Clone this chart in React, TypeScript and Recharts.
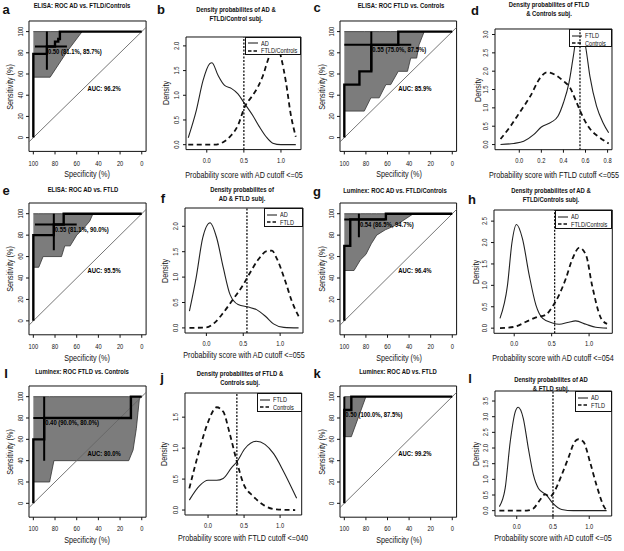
import React from 'react';
import { ComposedChart, Line, Area, Scatter, XAxis, YAxis, ReferenceArea } from 'recharts';

const FONT = '"Liberation Sans", Arial, sans-serif';
const INK = '#111';
// the figure uses a narrow sans; squeeze Liberation Sans horizontally
const NARROW = 0.8;

type XY = [number, number];
type Band3 = [number, number, number];
type Box = { l: number; r: number; t: number; b: number };

// ROC axes: specificity runs 100 -> 0
const specTicks = [100, 80, 60, 40, 20, 0];
const sensTicks = [0, 20, 40, 60, 80, 100];
const chanceLine: XY[] = [[104, -4], [-4, 104]];

// a  ELISA: AD vs FTLD/Controls
const rocCurveA: XY[] = [[100, 0], [100, 79], [87.5, 79], [87.5, 86], [80, 86], [80, 90.5], [77, 90.5], [77, 93], [75.5, 93], [75.5, 100], [0, 100]];
const rocBandA: Band3[] = [[100, 57, 100], [84.5, 57, 100], [69, 81, 100], [55, 100, 100]];
const rocCrossVA: XY[] = [[87.5, 64], [87.5, 100]];
const rocCrossHA: XY[] = [[98.5, 86], [69, 86]];

// c  ELISA: FTLD vs Controls
const rocCurveC: XY[] = [[100, 0], [100, 50], [86, 50], [86, 62.5], [75, 62.5], [75, 87.5], [50, 87.5], [50, 100], [0, 100]];
const rocBandC: Band3[] = [[100, 25, 100], [81.5, 25, 100], [75.4, 37.5, 100], [67.7, 37.5, 100], [61.5, 50, 100], [57, 50, 100], [50, 62.5, 100], [41.5, 62.5, 100], [38.5, 75, 100], [33, 75, 100], [30.8, 87.5, 100], [26, 100, 100]];
const rocCrossVC: XY[] = [[75, 62.5], [75, 100]];
const rocCrossHC: XY[] = [[100, 87.5], [38, 87.5]];

// e  ELISA: AD vs FTLD
const rocCurveE: XY[] = [[100, 0], [100, 80], [81.1, 80], [81.1, 90], [72, 90], [72, 100], [0, 100]];
const rocBandE: Band3[] = [[100, 50, 100], [95, 50, 100], [91, 60, 100], [74, 60, 100], [71, 70, 100], [66, 70, 100], [60, 80, 100], [54, 86, 100], [48, 93, 100], [45, 100, 100]];
const rocCrossVE: XY[] = [[81.1, 66], [81.1, 100]];
const rocCrossHE: XY[] = [[98.5, 90], [60, 90]];

// g  Luminex: AD vs FTLD/Controls
const rocCurveG: XY[] = [[100, 0], [100, 70], [94.5, 70], [94.5, 94.7], [61.5, 94.7], [61.5, 100], [0, 100]];
const rocBandG: Band3[] = [[100, 47, 100], [91, 47, 100], [85, 57, 100], [80, 62, 100], [75, 72, 100], [70, 80, 100], [62, 85, 100], [55, 88, 100], [48, 92, 100], [42, 96, 100], [36, 100, 100]];
const rocCrossVG: XY[] = [[86.5, 78], [86.5, 100]];
const rocCrossHG: XY[] = [[100, 94.7], [62, 94.7]];

// i  Luminex: FTLD vs Controls
const rocCurveI: XY[] = [[100, 0], [100, 60], [90, 60], [90, 80], [10, 80], [10, 100], [0, 100]];
const rocBandI: Band3[] = [[100, 20, 100], [85, 20, 100], [81, 40, 100], [12, 40, 100], [8, 50, 100], [5, 70, 100], [3.5, 85, 100], [2, 100, 100]];
const rocCrossVI: XY[] = [[90, 40], [90, 100]];
const rocCrossHI: XY[] = [[100, 80], [10, 80]];

// k  Luminex: AD vs FTLD
const rocCurveK: XY[] = [[100, 0], [100, 87.5], [93.5, 87.5], [93.5, 100], [0, 100]];
const rocBandK: Band3[] = [[100, 62.5, 100], [93.5, 62.5, 100], [80, 100, 100]];
const rocCrossVK: XY[] = [[100, 62.5], [100, 100]];
const rocCrossHK: XY[] = [[100, 87.5], [93.5, 87.5]];

// density panels (probability score, density)
const probTicks = [0, 0.5, 1];
const probTicksD = [0, 0.2, 0.4, 0.6, 0.8];
const densTicksB = [0, 0.5, 1, 1.5, 2];
const densTicksD = [0, 0.5, 1, 1.5, 2, 2.5, 3];
const densTicksF = [0, 0.5, 1, 1.5, 2];
const densTicksH = [0, 0.5, 1, 1.5, 2, 2.5];
const densTicksJ = [0, 0.5, 1, 1.5];
const densTicksL = [0, 0.5, 1, 1.5, 2, 2.5, 3, 3.5];

const densAdB: XY[] = [[-0.25, 0.14], [-0.14, 0.7], [-0.05, 1.3], [0.04, 1.64], [0.07, 1.66], [0.15, 1.41], [0.24, 1.2], [0.33, 1.14], [0.42, 1.03], [0.51, 0.83], [0.62, 0.59], [0.71, 0.36], [0.8, 0.16], [0.89, 0.03], [1.0, 0], [1.2, 0]];
const densOtherB: XY[] = [[-0.25, 0], [0.1, 0], [0.22, 0.05], [0.33, 0.19], [0.42, 0.39], [0.51, 0.76], [0.62, 1.0], [0.69, 1.17], [0.75, 1.37], [0.84, 1.78], [0.91, 2.01], [0.94, 2.08], [1.0, 1.78], [1.07, 1.24], [1.13, 0.63], [1.2, 0.16]];

const densFtldD: XY[] = [[-0.17, 0], [-0.05, 0.03], [0.04, 0.09], [0.13, 0.27], [0.2, 0.48], [0.29, 0.61], [0.35, 0.77], [0.4, 1.14], [0.45, 1.68], [0.49, 2.41], [0.52, 2.95], [0.56, 3.05], [0.6, 2.68], [0.64, 1.86], [0.7, 1.05], [0.76, 0.59], [0.81, 0.32]];
const densCtrlD: XY[] = [[-0.17, 0.15], [-0.08, 0.5], [0, 0.86], [0.1, 1.32], [0.19, 1.82], [0.25, 1.97], [0.32, 1.91], [0.4, 1.73], [0.46, 1.55], [0.52, 1.14], [0.58, 0.73], [0.64, 0.43], [0.72, 0.21], [0.81, 0.03]];

const densAdF: XY[] = [[-0.23, 0.33], [-0.14, 0.98], [-0.05, 1.77], [0.05, 2.07], [0.14, 1.77], [0.23, 1.18], [0.32, 0.66], [0.43, 0.46], [0.57, 0.41], [0.68, 0.36], [0.8, 0.23], [0.91, 0.08], [1.05, 0.01], [1.25, 0]];
const densFtldF: XY[] = [[-0.23, 0], [0, 0.01], [0.11, 0.1], [0.23, 0.3], [0.34, 0.52], [0.5, 0.85], [0.59, 1.08], [0.7, 1.34], [0.82, 1.51], [0.89, 1.52], [0.95, 1.38], [1.07, 0.92], [1.16, 0.52], [1.25, 0.23]];

const densAdH: XY[] = [[-0.19, 0.23], [-0.09, 1.0], [-0.03, 2.0], [0.03, 2.42], [0.11, 2.09], [0.2, 1.24], [0.29, 0.54], [0.38, 0.23], [0.51, 0.12], [0.6, 0.09], [0.73, 0.14], [0.82, 0.17], [0.96, 0.09], [1.09, 0.02], [1.24, 0]];
const densOtherH: XY[] = [[-0.19, 0], [0, 0.03], [0.16, 0.15], [0.29, 0.25], [0.42, 0.31], [0.51, 0.5], [0.6, 0.78], [0.69, 1.16], [0.78, 1.63], [0.87, 1.88], [0.96, 1.7], [1.04, 1.0], [1.16, 0.23], [1.24, 0.1]];

const densFtldJ: XY[] = [[-0.26, 0.16], [-0.12, 0.39], [0, 0.48], [0.12, 0.48], [0.21, 0.51], [0.33, 0.69], [0.4, 0.78], [0.51, 0.99], [0.67, 1.11], [0.79, 1.06], [0.91, 0.91], [1.05, 0.62], [1.23, 0.19]];
const densCtrlJ: XY[] = [[-0.26, 0.35], [-0.12, 0.97], [0, 1.42], [0.12, 1.66], [0.21, 1.59], [0.3, 1.24], [0.4, 0.78], [0.49, 0.43], [0.63, 0.22], [0.77, 0.08], [0.95, 0.01], [1.21, 0]];

const densAdL: XY[] = [[-0.24, 0.13], [-0.16, 0.71], [-0.09, 2.2], [-0.02, 3.16], [0.02, 3.3], [0.09, 2.95], [0.16, 1.99], [0.23, 1.14], [0.3, 0.71], [0.41, 0.5], [0.5, 0.23], [0.62, 0.04], [0.78, 0], [1.24, 0]];
const densFtldL: XY[] = [[-0.24, 0], [0.14, 0], [0.23, 0.07], [0.32, 0.34], [0.39, 0.52], [0.46, 0.45], [0.53, 0.66], [0.62, 1.14], [0.71, 1.67], [0.8, 2.2], [0.85, 2.28], [0.92, 2.2], [1.01, 1.56], [1.1, 0.82], [1.22, 0.07], [1.26, 0]];

const MARGIN = { top: 2, right: 2, bottom: 0, left: 0 };

function frame(box: Box) {
  return { left: box.l - 24, top: box.t - 2, width: box.r - box.l + 26, height: box.b - box.t + 26 };
}

const rotTick = (fmt: (v: number) => string) => (p: any) => (
  <text transform={`translate(${p.x} ${p.y}) rotate(-90) scale(${NARROW} 1)`} textAnchor="middle" fontSize={7.2} fontFamily={FONT} fill={INK}>
    {fmt(p.payload.value)}
  </text>
);

const xTick = (fmt: (v: number) => string) => (p: any) => (
  <text transform={`translate(${p.x} ${p.y}) scale(${NARROW} 1)`} dy="0.71em" textAnchor="middle" fontSize={7.2} fontFamily={FONT} fill={INK}>
    {fmt(p.payload.value)}
  </text>
);

const textShape = (text: string, dx: number, dy: number) => (p: any) => (
  <text transform={`translate(${p.cx + dx} ${p.cy + dy}) scale(0.76 1)`} fontSize={7.8} fontWeight="bold" fontFamily={FONT} fill="#000">
    {text}
  </text>
);

const fix1 = (v: number) => v.toFixed(1);

function Txt({ x, y, size = 9, bold = false, rot = false, narrow = true, children }: any) {
  const sq = narrow ? ` scaleX(${NARROW})` : '';
  return (
    <div
      style={{
        position: 'absolute', left: x, top: y, transform: `translate(-50%, -50%)${rot ? ' rotate(-90deg)' : ''}${sq}`,
        fontSize: size, fontWeight: bold ? 700 : 400, fontFamily: FONT, whiteSpace: 'nowrap', lineHeight: 1, color: INK,
      }}
    >
      {children}
    </div>
  );
}

interface RocProps {
  box: Box; curve: XY[]; band: Band3[]; crossV: XY[]; crossH: XY[]; thr: XY; thrLabel: string; auc: string;
}

function RocPanel({ box, curve, band, crossV, crossH, thr, thrLabel, auc }: RocProps) {
  const fr = frame(box);
  const pts = (a: XY[]) => a.map(([spec, sens]) => ({ spec, sens }));
  const bandData = band.map(([spec, lo, hi]) => ({ spec, lo, hi }));
  return (
    <div style={{ position: 'absolute', left: fr.left, top: fr.top }}>
      <ComposedChart width={fr.width} height={fr.height} margin={MARGIN}>
        <XAxis type="number" dataKey="spec" domain={[-4, 104]} reversed allowDataOverflow ticks={specTicks} interval={0}
          height={24} axisLine={false} tickLine={{ stroke: INK }} tickSize={3} tickMargin={6} tick={xTick(String)} />
        <YAxis type="number" dataKey="sens" domain={[-13, 110]} allowDataOverflow ticks={sensTicks} interval={0}
          width={24} axisLine={false} tickLine={{ stroke: INK }} tickSize={3} tickMargin={3} tick={rotTick(String)} />
        <Area data={bandData} dataKey={(d: any) => [d.lo, d.hi]} type="linear" fill="#7c7c7c" fillOpacity={1}
          stroke="#333" strokeWidth={0.8} isAnimationActive={false} dot={false} activeDot={false} />
        <Line data={pts(chanceLine)} dataKey="sens" type="linear" stroke="#666" strokeWidth={0.9} dot={false} isAnimationActive={false} />
        <Line data={pts(curve)} dataKey="sens" type="linear" stroke="#000" strokeWidth={2.4} dot={false} isAnimationActive={false} />
        <Line data={pts(crossV)} dataKey="sens" type="linear" stroke="#000" strokeWidth={2} dot={false} isAnimationActive={false} />
        <Line data={pts(crossH)} dataKey="sens" type="linear" stroke="#000" strokeWidth={2} dot={false} isAnimationActive={false} />
        <Scatter data={pts([thr])} dataKey="sens" shape={textShape(thrLabel, 1, 7.5)} isAnimationActive={false} />
        <Scatter data={pts([[50, 50]])} dataKey="sens" shape={textShape(auc, 0, 6)} isAnimationActive={false} />
        <ReferenceArea x1={-4} x2={104} y1={-13} y2={110} fill="none" stroke={INK} strokeWidth={1} />
      </ComposedChart>
    </div>
  );
}

interface DensProps {
  box: Box; xDomain: [number, number]; yDomain: [number, number]; xTicks: number[]; yTicks: number[];
  solid: XY[]; dashed: XY[]; cutoff: number; legend: Box; legendItems: { label: string; dashed: boolean }[];
}

function DensityPanel({ box, xDomain, yDomain, xTicks, yTicks, solid, dashed, cutoff, legend, legendItems }: DensProps) {
  const fr = frame(box);
  const pts = (a: XY[]) => a.map(([x, y]) => ({ x, y }));
  const cutLine = pts([[cutoff, yDomain[0]], [cutoff, yDomain[1]]]);
  return (
    <>
      <div style={{ position: 'absolute', left: fr.left, top: fr.top }}>
        <ComposedChart width={fr.width} height={fr.height} margin={MARGIN}>
          <XAxis type="number" dataKey="x" domain={xDomain} allowDataOverflow ticks={xTicks} interval={0}
            height={24} axisLine={false} tickLine={{ stroke: INK }} tickSize={3} tickMargin={5} tick={xTick(fix1)} />
          <YAxis type="number" dataKey="y" domain={yDomain} allowDataOverflow ticks={yTicks} interval={0}
            width={24} axisLine={false} tickLine={{ stroke: INK }} tickSize={3} tickMargin={4} tick={rotTick(fix1)} />
          <Line data={pts(solid)} dataKey="y" type="monotone" stroke="#222" strokeWidth={1.1} dot={false} isAnimationActive={false} />
          <Line data={pts(dashed)} dataKey="y" type="monotone" stroke="#111" strokeWidth={1.8} strokeDasharray="5 3.5" dot={false} isAnimationActive={false} />
          <ReferenceArea x1={xDomain[0]} x2={xDomain[1]} y1={yDomain[0]} y2={yDomain[1]} fill="none" stroke={INK} strokeWidth={1} />
        </ComposedChart>
      </div>
      <LegendBox box={legend} items={legendItems} />
      {/* cutoff line sits above the opaque legend, as in the original */}
      <div style={{ position: 'absolute', left: fr.left, top: fr.top }}>
        <ComposedChart width={fr.width} height={fr.height} margin={MARGIN}>
          <XAxis type="number" dataKey="x" domain={xDomain} allowDataOverflow height={24} axisLine={false} tickLine={false} tick={false} />
          <YAxis type="number" dataKey="y" domain={yDomain} allowDataOverflow width={24} axisLine={false} tickLine={false} tick={false} />
          <Line data={cutLine} dataKey="y" type="linear" stroke="#111" strokeWidth={1.3} strokeDasharray="2 1.5" dot={false} isAnimationActive={false} />
        </ComposedChart>
      </div>
    </>
  );
}

function LegendBox({ box, items }: { box: Box; items: { label: string; dashed: boolean }[] }) {
  return (
    <div style={{ position: 'absolute', left: box.l, top: box.t, width: box.r - box.l, height: box.b - box.t, border: `1px solid ${INK}`, boxSizing: 'border-box', background: '#fff' }}>
      {items.map((it, i) => (
        <div key={i} style={{ position: 'absolute', left: 2, top: 1.5 + i * 7.6, height: 8, display: 'flex', alignItems: 'center', fontSize: 7, fontFamily: FONT, whiteSpace: 'nowrap', color: INK }}>
          <svg width={10} height={8} style={{ display: 'block' }}>
            <line x1={0} y1={4} x2={10} y2={4} stroke={INK} strokeWidth={it.dashed ? 1.6 : 1} strokeDasharray={it.dashed ? '3.5 2' : undefined} />
          </svg>
          <span style={{ marginLeft: 3, display: 'inline-block', transform: `scaleX(${NARROW})`, transformOrigin: 'left center' }}>{it.label}</span>
        </div>
      ))}
    </div>
  );
}

const boxA: Box = { l: 28.7, r: 145.8, t: 21.4, b: 151.8 };
const boxC: Box = { l: 340.2, r: 456.8, t: 21.4, b: 151.8 };
const boxE: Box = { l: 28.7, r: 145.8, t: 202.6, b: 334.4 };
const boxG: Box = { l: 340.2, r: 456.8, t: 202.6, b: 334.4 };
const boxI: Box = { l: 28.7, r: 145.8, t: 386, b: 517.2 };
const boxK: Box = { l: 340.2, r: 456.8, t: 386, b: 517.2 };

const boxB: Box = { l: 186, r: 301, t: 36.7, b: 149.3 };
const boxD: Box = { l: 495, r: 612, t: 29.3, b: 150 };
const boxF: Box = { l: 185, r: 303, t: 208.3, b: 333.3 };
const boxH: Box = { l: 493.7, r: 612, t: 210, b: 333.3 };
const boxJ: Box = { l: 185, r: 301.7, t: 393, b: 515 };
const boxL: Box = { l: 495, r: 611.7, t: 391, b: 516 };

const cx = (b: Box) => (b.l + b.r) / 2;
const cy = (b: Box) => (b.t + b.b) / 2;

function RocText({ box, title, titleX, titleY, xLabY, yLabX }: any) {
  return (
    <>
      <Txt x={titleX} y={titleY} size={7.4} bold>{title}</Txt>
      <Txt x={cx(box)} y={xLabY} size={9}>Specificity (%)</Txt>
      <Txt x={yLabX} y={cy(box)} size={9} rot>Sensitivity (%)</Txt>
    </>
  );
}

function DensText({ box, t1, t2, titleX, titleY, xLab, xLabY, yLabX }: any) {
  return (
    <>
      <Txt x={titleX} y={titleY} size={7.4} bold>{t1}</Txt>
      <Txt x={titleX} y={titleY + 9} size={7.4} bold>{t2}</Txt>
      <Txt x={cx(box)} y={xLabY} size={9}>{xLab}</Txt>
      <Txt x={yLabX} y={cy(box)} size={9} rot>Density</Txt>
    </>
  );
}

const adOther = [{ label: 'AD', dashed: false }, { label: 'FTLD/Controls', dashed: true }];
const ftldCtrl = [{ label: 'FTLD', dashed: false }, { label: 'Controls', dashed: true }];
const adFtld = [{ label: 'AD', dashed: false }, { label: 'FTLD', dashed: true }];

function Letter({ x, y, children }: any) {
  return <Txt x={x} y={y} size={13} bold narrow={false}>{children}</Txt>;
}

export default function App() {
  return (
    <div style={{ position: 'absolute', left: 0, top: 0, width: 624, height: 551, background: '#fff', overflow: 'hidden' }}>
      {/* row 1 */}
      <RocPanel box={boxA} curve={rocCurveA} band={rocBandA} crossV={rocCrossVA} crossH={rocCrossHA} thr={[87.5, 86]} thrLabel="0.50 (81.1%, 85.7%)" auc="AUC: 96.2%" />
      <RocText box={boxA} title="ELISA: ROC AD vs. FTLD/Controls" titleX={82} titleY={6} xLabY={174} yLabX={10} />
      <Letter x={6} y={9}>a</Letter>

      <DensityPanel box={boxB} xDomain={[-0.28, 1.27]} yDomain={[-0.1, 2.18]} xTicks={probTicks} yTicks={densTicksB} solid={densAdB} dashed={densOtherB} cutoff={0.5}
        legend={{ l: 245.3, r: 301, t: 36.7, b: 55.5 }} legendItems={adOther} />
      <DensText box={boxB} t1="Density probabilites of AD &" t2="FTLD/Control subj." titleX={236} titleY={10} xLab="Probability score with AD cutoff <=05" xLabY={175} yLabX={166} />
      <Letter x={161} y={9}>b</Letter>

      <RocPanel box={boxC} curve={rocCurveC} band={rocBandC} crossV={rocCrossVC} crossH={rocCrossHC} thr={[75, 87.5]} thrLabel="0.55 (75.0%, 87.5%)" auc="AUC: 85.9%" />
      <RocText box={boxC} title="ELISA: ROC FTLD vs. Controls" titleX={401} titleY={6} xLabY={174} yLabX={322} />
      <Letter x={317} y={7}>c</Letter>

      <DensityPanel box={boxD} xDomain={[-0.22, 0.84]} yDomain={[-0.14, 3.15]} xTicks={probTicksD} yTicks={densTicksD} solid={densFtldD} dashed={densCtrlD} cutoff={0.55}
        legend={{ l: 569.3, r: 612, t: 29.3, b: 47.5 }} legendItems={ftldCtrl} />
      <DensText box={boxD} t1="Density probabilites of FTLD" t2="& Controls subj." titleX={549} titleY={5} xLab="Probability score with FTLD cutoff <=055" xLabY={175} yLabX={478} />
      <Letter x={475} y={10}>d</Letter>

      {/* row 2 */}
      <RocPanel box={boxE} curve={rocCurveE} band={rocBandE} crossV={rocCrossVE} crossH={rocCrossHE} thr={[81.1, 90]} thrLabel="0.55 (81.1%, 90.0%)" auc="AUC: 95.5%" />
      <RocText box={boxE} title="ELISA: ROC AD vs. FTLD" titleX={83} titleY={190} xLabY={358} yLabX={10} />
      <Letter x={6} y={190}>e</Letter>

      <DensityPanel box={boxF} xDomain={[-0.29, 1.31]} yDomain={[-0.1, 2.36]} xTicks={probTicks} yTicks={densTicksF} solid={densAdF} dashed={densFtldF} cutoff={0.55}
        legend={{ l: 264.3, r: 303, t: 208.3, b: 227.5 }} legendItems={adFtld} />
      <DensText box={boxF} t1="Density probabilites of" t2="AD & FTLD subj." titleX={242} titleY={190} xLab="Probability score with AD cutoff <=055" xLabY={355} yLabX={165} />
      <Letter x={163} y={198}>f</Letter>

      <RocPanel box={boxG} curve={rocCurveG} band={rocBandG} crossV={rocCrossVG} crossH={rocCrossHG} thr={[86.5, 94.7]} thrLabel="0.54 (86.5%, 94.7%)" auc="AUC: 96.4%" />
      <RocText box={boxG} title="Luminex: ROC AD vs. FTLD/Controls" titleX={395} titleY={191} xLabY={358} yLabX={322} />
      <Letter x={317} y={191}>g</Letter>

      <DensityPanel box={boxH} xDomain={[-0.27, 1.31]} yDomain={[-0.12, 2.76]} xTicks={probTicks} yTicks={densTicksH} solid={densAdH} dashed={densOtherH} cutoff={0.54}
        legend={{ l: 554.7, r: 612, t: 210, b: 228.5 }} legendItems={adOther} />
      <DensText box={boxH} t1="Density probabilites of AD &" t2="FTLD/Controls subj." titleX={551} titleY={191} xLab="Probability score with AD cutoff <=054" xLabY={358} yLabX={476} />
      <Letter x={472} y={199}>h</Letter>

      {/* row 3 */}
      <RocPanel box={boxI} curve={rocCurveI} band={rocBandI} crossV={rocCrossVI} crossH={rocCrossHI} thr={[90, 80]} thrLabel="0.40 (90.0%, 80.0%)" auc="AUC: 80.0%" />
      <RocText box={boxI} title="Luminex: ROC FTLD vs. Controls" titleX={82} titleY={372} xLabY={540} yLabX={10} />
      <Letter x={6} y={373}>I</Letter>

      <DensityPanel box={boxJ} xDomain={[-0.32, 1.3]} yDomain={[-0.08, 1.89]} xTicks={probTicks} yTicks={densTicksJ} solid={densFtldJ} dashed={densCtrlJ} cutoff={0.4}
        legend={{ l: 256.7, r: 301.7, t: 393, b: 411.7 }} legendItems={ftldCtrl} />
      <DensText box={boxJ} t1="Density probabilites of FTLD &" t2="Controls subj." titleX={240} titleY={374} xLab="Probability score with FTLD cutoff <=040" xLabY={538} yLabX={164} />
      <Letter x={162} y={377}>j</Letter>

      <RocPanel box={boxK} curve={rocCurveK} band={rocBandK} crossV={rocCrossVK} crossH={rocCrossHK} thr={[100, 87.5]} thrLabel="0.50 (100.0%, 87.5%)" auc="AUC: 99.2%" />
      <RocText box={boxK} title="Luminex: ROC AD vs. FTLD" titleX={398} titleY={372} xLabY={540} yLabX={322} />
      <Letter x={317} y={373}>k</Letter>

      <DensityPanel box={boxL} xDomain={[-0.3, 1.31]} yDomain={[-0.17, 3.82]} xTicks={probTicks} yTicks={densTicksL} solid={densAdL} dashed={densFtldL} cutoff={0.5}
        legend={{ l: 575, r: 611.7, t: 391, b: 411.5 }} legendItems={adFtld} />
      <DensText box={boxL} t1="Density probabilites of AD" t2="& FTLD subj." titleX={551} titleY={380} xLab="Probability score with AD cutoff <=05" xLabY={538} yLabX={476} />
      <Letter x={470} y={378}>l</Letter>
    </div>
  );
}
